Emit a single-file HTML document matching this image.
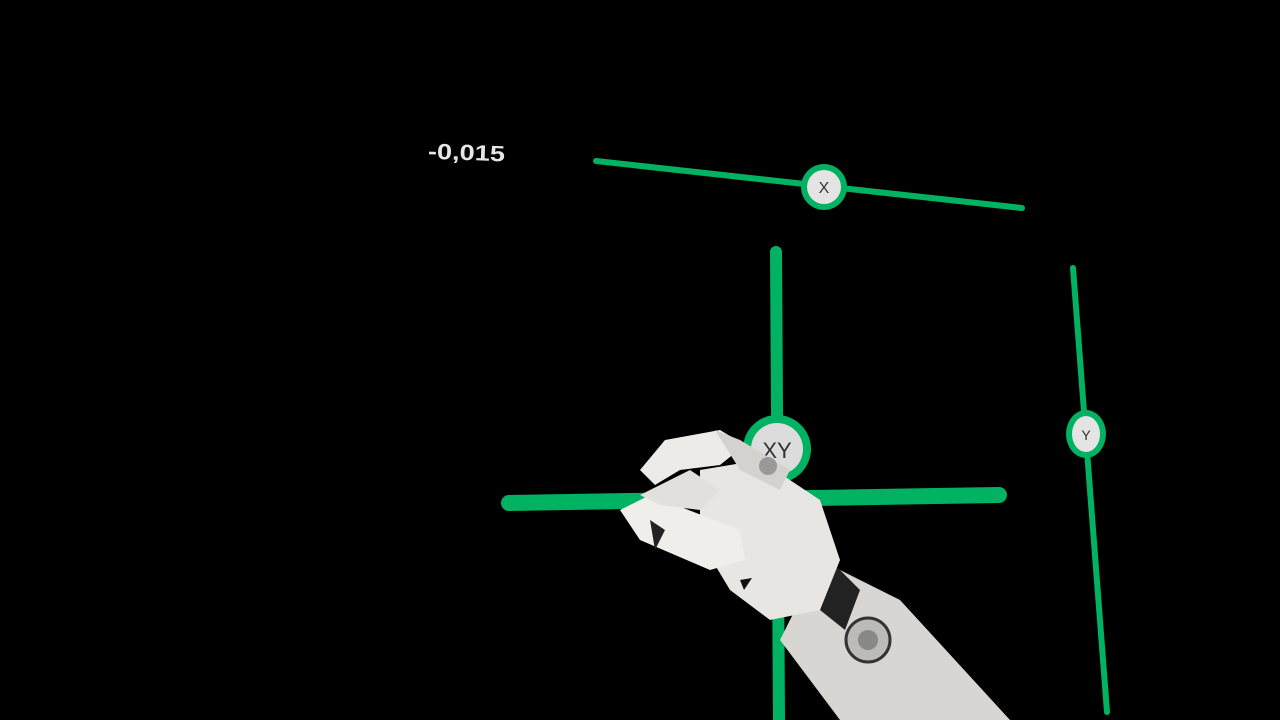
<!DOCTYPE html>
<html>
<head>
<meta charset="utf-8">
<style>
html,body{margin:0;padding:0;background:#000;width:1280px;height:720px;overflow:hidden}
svg{display:block}
text{font-family:"Liberation Sans",sans-serif}
</style>
</head>
<body>
<svg width="1280" height="720" viewBox="0 0 1280 720">
  <rect width="1280" height="720" fill="#000"/>
  <text x="428" y="160" fill="#e6e6e6" font-size="22" font-weight="bold" textLength="77" lengthAdjust="spacingAndGlyphs" transform="rotate(2 466 152)">-0,015</text>

  <!-- X slider -->
  <g>
    <line x1="596" y1="161" x2="1022" y2="208" stroke="#00b262" stroke-width="6" stroke-linecap="round"/>
    <g>
      <circle cx="824" cy="187" r="23" fill="#00b262"/>
      <circle cx="824" cy="187" r="17" fill="#e4e4e4"/>
      <text x="824" y="193" font-size="16" text-anchor="middle" fill="#333">X</text>
    </g>
  </g>

  <!-- Y slider -->
  <g>
    <line x1="1073" y1="268" x2="1107" y2="712" stroke="#00b262" stroke-width="6" stroke-linecap="round"/>
    <g>
      <ellipse cx="1086" cy="434" rx="20" ry="24" fill="#00b262"/>
      <ellipse cx="1086" cy="434" rx="14" ry="18" fill="#e4e4e4"/>
      <text x="1086" y="440" font-size="14" text-anchor="middle" fill="#333">Y</text>
    </g>
  </g>

  <!-- XY pad -->
  <g>
    <line x1="776" y1="252" x2="779" y2="720" stroke="#00b262" stroke-width="12" stroke-linecap="round"/>
    <line x1="509" y1="503" x2="999" y2="495" stroke="#00b262" stroke-width="16" stroke-linecap="round"/>
    <g>
      <circle cx="777" cy="449" r="34" fill="#00b262"/>
      <circle cx="777" cy="449" r="26" fill="#dcdcdc"/>
      <text x="777" y="458" font-size="22" text-anchor="middle" fill="#333">XY</text>
    </g>
  </g>

  <!-- Robotic hand -->
  <g>
    <path d="M820 560 L900 600 L1010 720 L840 720 L780 640 Z" fill="#d8d6d2"/>
    <path d="M830 560 L860 590 L845 630 L820 610 Z" fill="#222"/>
    <circle cx="868" cy="640" r="22" fill="#bdbbb7" stroke="#333" stroke-width="3"/>
    <circle cx="868" cy="640" r="10" fill="#888"/>
    <path d="M700 470 L760 460 L820 500 L840 560 L820 610 L770 620 L730 590 L700 540 Z" fill="#e8e6e2"/>
    <path d="M620 510 L650 495 L740 530 L745 560 L710 570 L640 540 Z" fill="#f0eeea"/>
    <path d="M640 495 L690 470 L720 490 L700 510 L660 505 Z" fill="#e2e0dc"/>
    <path d="M640 470 L665 440 L720 430 L745 445 L720 465 L680 470 L655 485 Z" fill="#ecebe7"/>
    <path d="M715 430 L740 440 L790 470 L780 490 L740 470 Z" fill="#d4d2ce"/>
    <circle cx="768" cy="466" r="9" fill="#999"/>
    <path d="M650 520 L665 530 L655 550 Z" fill="#222"/>
    <path d="M740 580 L752 578 L744 590 Z" fill="#111"/>
  </g>
</svg>
</body>
</html>
